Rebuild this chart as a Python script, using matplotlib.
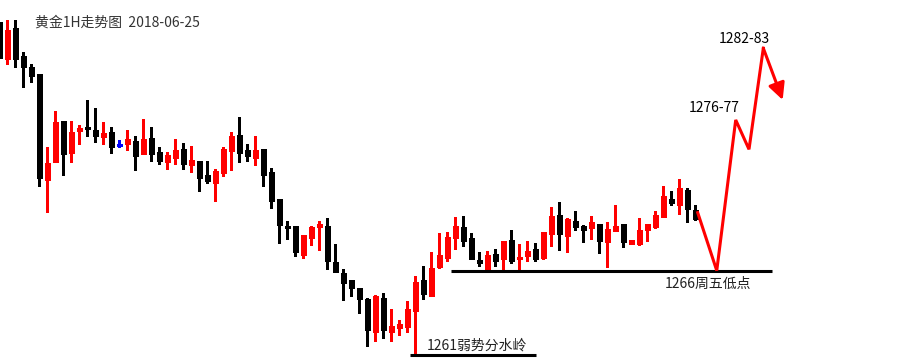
import numpy as np
import matplotlib
matplotlib.use('Agg')
import matplotlib.pyplot as plt

plt.rcParams['font.family'] = ['Noto Sans CJK SC', 'DejaVu Sans']

# Tiêu đề và nhãn
TITLE = '黄金1H走势图  2018-06-25'
LABEL_HIGH = '1282-83'
LABEL_MID = '1276-77'
LABEL_FRI_LOW = '1266周五低点'
LABEL_PIVOT = '1261弱势分水岭'

# Dữ liệu nến 1H (giá)
opens = [1280.84, 1278.60, 1280.45, 1278.80, 1278.16, 1277.73, 1271.42, 1272.51, 1274.93, 1273.04,
         1274.35, 1274.57, 1274.39, 1273.99, 1274.27, 1273.50, 1273.56, 1273.74, 1272.98, 1273.92,
         1273.08, 1272.51, 1272.74, 1273.26, 1272.33, 1272.55, 1271.71, 1271.26, 1271.85, 1273.16,
         1274.10, 1273.20, 1272.74, 1273.26, 1271.89, 1270.29, 1268.68, 1268.68, 1266.97, 1267.98,
         1268.64, 1268.68, 1266.54, 1265.88, 1265.46, 1264.99, 1264.33, 1262.37, 1264.39, 1262.37,
         1262.61, 1262.67, 1263.62, 1265.46, 1264.51, 1266.24, 1266.77, 1267.96, 1268.62, 1267.96,
         1266.65, 1266.12, 1267.01, 1266.71, 1267.85, 1266.71, 1266.89, 1267.31, 1266.77, 1268.20,
         1269.33, 1268.08, 1268.98, 1268.68, 1268.58, 1268.80, 1267.74, 1268.40, 1268.80, 1267.63,
         1267.63, 1268.46, 1268.64, 1269.23, 1270.29, 1269.95, 1270.82, 1269.60]
highs = [1280.84, 1280.94, 1280.94, 1279.05, 1278.32, 1277.73, 1273.40, 1275.52, 1274.93, 1274.93,
         1274.69, 1276.18, 1275.70, 1274.87, 1274.57, 1273.80, 1274.39, 1274.04, 1275.05, 1274.57,
         1273.38, 1273.08, 1273.86, 1273.62, 1273.44, 1272.55, 1272.55, 1272.09, 1273.38, 1274.27,
         1275.17, 1273.56, 1274.04, 1273.26, 1272.13, 1270.29, 1268.98, 1268.68, 1268.14, 1268.68,
         1268.98, 1269.15, 1267.61, 1266.12, 1265.46, 1264.99, 1264.39, 1264.57, 1264.69, 1263.74,
         1263.08, 1264.21, 1265.70, 1266.30, 1267.13, 1268.26, 1268.32, 1269.21, 1269.27, 1268.26,
         1267.13, 1267.19, 1267.31, 1267.79, 1268.44, 1267.61, 1267.79, 1267.67, 1268.32, 1269.81,
         1270.11, 1269.15, 1269.57, 1268.74, 1269.27, 1268.80, 1268.92, 1269.93, 1268.80, 1267.86,
         1269.15, 1268.80, 1269.57, 1271.06, 1270.76, 1271.48, 1270.94, 1269.95]
lows = [1278.66, 1278.30, 1278.16, 1276.97, 1277.27, 1271.08, 1269.53, 1272.51, 1271.71, 1272.51,
        1273.56, 1274.04, 1273.70, 1273.56, 1273.04, 1273.40, 1273.20, 1272.01, 1272.98, 1272.57,
        1272.39, 1272.09, 1272.39, 1272.09, 1271.91, 1270.78, 1271.26, 1270.18, 1271.67, 1272.03,
        1272.51, 1272.57, 1272.33, 1271.08, 1269.77, 1267.65, 1267.90, 1266.89, 1266.77, 1267.55,
        1267.25, 1266.12, 1265.94, 1264.27, 1264.51, 1263.52, 1261.54, 1261.83, 1262.01, 1261.83,
        1262.19, 1262.37, 1261.00, 1264.33, 1264.51, 1266.18, 1266.60, 1267.31, 1267.49, 1266.71,
        1266.30, 1266.06, 1266.30, 1266.12, 1266.48, 1266.06, 1266.60, 1266.60, 1266.71, 1267.49,
        1267.25, 1267.13, 1268.44, 1267.74, 1267.90, 1267.09, 1266.26, 1268.40, 1267.45, 1267.63,
        1267.57, 1267.80, 1268.56, 1269.23, 1269.95, 1269.39, 1268.93, 1269.05]
closes = [1278.66, 1280.35, 1278.64, 1278.16, 1277.63, 1271.55, 1272.43, 1274.87, 1272.96, 1274.27,
          1274.51, 1274.47, 1274.05, 1274.20, 1273.40, 1273.50, 1273.86, 1272.86, 1273.86, 1272.98,
          1272.57, 1272.90, 1273.20, 1272.39, 1272.61, 1271.55, 1271.38, 1271.97, 1273.26, 1274.04,
          1273.04, 1272.86, 1273.20, 1271.73, 1270.18, 1268.76, 1268.58, 1267.15, 1268.14, 1268.62,
          1268.80, 1266.61, 1265.94, 1265.29, 1265.01, 1264.33, 1262.49, 1264.53, 1262.49, 1262.73,
          1262.85, 1263.74, 1265.35, 1264.63, 1266.18, 1266.95, 1268.02, 1268.68, 1267.79, 1266.71,
          1266.46, 1266.95, 1266.61, 1267.79, 1266.61, 1266.83, 1267.19, 1266.71, 1268.32, 1269.27,
          1268.20, 1269.10, 1268.59, 1268.46, 1268.92, 1267.80, 1268.50, 1268.68, 1267.74, 1267.86,
          1268.44, 1268.80, 1269.33, 1270.46, 1270.03, 1270.94, 1269.71, 1269.11]

# Hai mức hỗ trợ
pivot_level = 1261.0
friday_low = 1266.0

# Đường dự báo (chỉ số nến, giá)
proj_x = [87.3, 89.68, 92.05, 93.71, 95.5]
proj_y = [1269.47, 1266.02, 1274.99, 1273.24, 1279.26]
arrow_tip = (97.92, 1276.18)


def draw_chart():
    fig = plt.figure(figsize=(9.11, 3.64), dpi=100)
    ax = fig.add_axes([0, 0, 1, 1])
    ax.set_axis_off()

    o = np.array(opens)
    h = np.array(highs)
    l = np.array(lows)
    c = np.array(closes)
    x = np.arange(len(o))

    colors = np.where(c > o, '#ff0000', np.where(c < o, '#000000', '#0000ff'))

    # Bóng nến
    ax.vlines(x, l, h, colors=colors, linewidth=0.75, antialiased=False, zorder=2)

    # Thân nến
    body_w = 0.66
    bottoms = np.minimum(o, c)
    heights = np.abs(c - o)
    solid = heights > 0
    ax.bar(x[solid], heights[solid], bottom=bottoms[solid], width=body_w,
           color=colors[solid], edgecolor=colors[solid], linewidth=0.5,
           antialiased=False, zorder=3)
    # Nến doji
    for xi in x[~solid]:
        ax.hlines(o[xi], xi - body_w / 2, xi + body_w / 2, colors=colors[xi],
                  linewidth=0.75, antialiased=False, zorder=3)

    # Đường hỗ trợ
    ax.hlines(friday_low, 56.46, 96.59, colors='black', linewidth=2.2, zorder=4)
    ax.hlines(pivot_level, 51.34, 67.09, colors='black', linewidth=2.2, zorder=4)

    # Đường dự báo màu đỏ
    ax.plot(proj_x, proj_y, color='#ff0000', linewidth=2.2, solid_joinstyle='miter', zorder=5)
    ax.annotate('', xy=arrow_tip, xytext=(proj_x[-1], proj_y[-1]),
                arrowprops=dict(arrowstyle='-|>,head_length=0.5,head_width=0.25',
                                color='#ff0000', lw=2.2, mutation_scale=20,
                                shrinkA=0, shrinkB=0), zorder=5)

    # Chữ
    fs = 10
    ax.text(0.0384, 0.937, TITLE, transform=ax.transAxes, fontsize=fs,
            color='#333333', ha='left', va='center')
    ax.text(89.96, 1279.81, LABEL_HIGH, fontsize=fs, ha='left', va='center')
    ax.text(86.21, 1275.73, LABEL_MID, fontsize=fs, ha='left', va='center')
    ax.text(83.2, 1265.23, LABEL_FRI_LOW, fontsize=fs, ha='left', va='center', color='#222222')
    ax.text(53.46, 1261.57, LABEL_PIVOT, fontsize=fs, ha='left', va='center', color='#222222')

    ax.set_xlim(0.0875, 113.96)
    ax.set_ylim(1260.46, 1282.13)

    fig.savefig('out.png', dpi=100)


if __name__ == "__main__":
    draw_chart()
